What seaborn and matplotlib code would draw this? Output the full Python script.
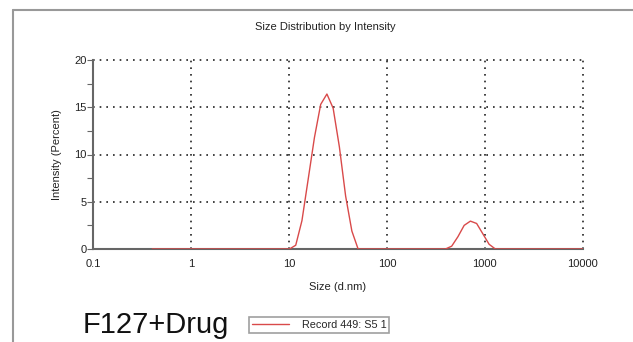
import numpy as np
import pandas as pd
import matplotlib
matplotlib.use("Agg")
import matplotlib.pyplot as plt
from matplotlib.lines import Line2D
from matplotlib.ticker import FixedLocator, LogLocator, NullFormatter
import seaborn as sns

# Size bins (d.nm) and intensity (%)
size_nm = [0.4, 0.4632, 0.5365, 0.6213, 0.7195, 0.8332, 0.9649, 1.117, 1.294, 1.499,
           1.736, 2.010, 2.328, 2.696, 3.122, 3.615, 4.187, 4.849, 5.615, 6.503,
           7.531, 8.721, 10.10, 11.70, 13.54, 15.69, 18.17, 21.04, 24.36, 28.21,
           32.67, 37.84, 43.82, 50.75, 58.77, 68.06, 78.82, 91.28, 105.7, 122.4,
           141.8, 164.2, 190.1, 220.2, 255.0, 295.3, 342.0, 396.1, 458.7, 531.2,
           615.1, 712.4, 825.0, 955.4, 1106, 1281, 1484, 1718, 1990, 2305,
           2669, 3091, 3580, 4145, 4801, 5560, 6439, 7456, 8635, 10000]
intensity = [0, 0, 0, 0, 0, 0, 0, 0, 0, 0,
             0, 0, 0, 0, 0, 0, 0, 0, 0, 0,
             0, 0, 0, 0.4, 3.0, 7.4, 11.8, 15.3, 16.4, 14.9,
             10.8, 5.6, 1.9, 0, 0, 0, 0, 0, 0, 0,
             0, 0, 0, 0, 0, 0, 0, 0, 0.3, 1.3,
             2.5, 2.95, 2.7, 1.6, 0.5, 0, 0, 0, 0, 0,
             0, 0, 0, 0, 0, 0, 0, 0, 0, 0]

x_ticks = [0.1, 1, 10, 100, 1000, 10000]
x_ticklabels = ["0.1", "1", "10", "100", "1000", "10000"]
y_ticks = [0, 5, 10, 15, 20]

title = "Size Distribution by Intensity"
sample_name = "F127+Drug"
record_label = "Record 449: S5 1"

df = pd.DataFrame({"size": size_nm, "intensity": intensity})

sns.set_style("white")
plt.rcParams["font.family"] = ["Liberation Sans", "DejaVu Sans"]

W, H = 633, 342
fig = plt.figure(figsize=(W / 100, H / 100), dpi=100)
ax = fig.add_axes([93.3 / W, 1 - 249 / H, (582.7 - 93.3) / W, (249 - 60) / H])

red = "#d94a4a"
sns.lineplot(data=df, x="size", y="intensity", ax=ax, color=red, linewidth=1,
             estimator=None, sort=False, zorder=5)

ax.set_xscale("log")
ax.set_xlim(0.1, 10000)
ax.set_ylim(0, 20)

ax.xaxis.set_major_locator(FixedLocator(x_ticks))
ax.set_xticklabels(x_ticklabels)
ax.xaxis.set_minor_locator(LogLocator(base=10, subs=np.arange(2, 10), numticks=50))
ax.xaxis.set_minor_formatter(NullFormatter())
ax.set_yticks(y_ticks)
ax.yaxis.set_minor_locator(FixedLocator([2.5, 7.5, 12.5, 17.5]))

ax.grid(True, which="major", color="#222222", linestyle=(0, (1, 3)), linewidth=1.2)
for gl in ax.get_xgridlines() + ax.get_ygridlines():
    gl.set_clip_on(False)
for side in ["top", "right"]:
    ax.spines[side].set_visible(False)
for side in ["left", "bottom"]:
    ax.spines[side].set_color("#666666")
    ax.spines[side].set_linewidth(1.5)

ax.tick_params(axis="x", which="major", length=0, pad=7, labelsize=8, colors="#222222")
ax.tick_params(axis="x", which="minor", length=3, direction="in", color="#666666", width=0.8)
ax.tick_params(axis="y", which="major", length=4, direction="out", pad=1, labelsize=8,
               color="#666666", width=0.8, labelcolor="#222222", left=True)
ax.tick_params(axis="y", which="minor", length=4, direction="out", color="#666666",
               width=0.8, left=True)

ax.set_xlabel("Size (d.nm)", fontsize=8, color="#222222")
ax.set_ylabel("Intensity (Percent)", fontsize=8, color="#222222")
ax.xaxis.set_label_coords(0.5, -0.175)
ax.yaxis.set_label_coords(-0.063, 0.5)

fig.text(325 / W, 1 - 27 / H, title, ha="center", va="center", fontsize=8, color="#222222")
fig.text(83 / W, 1 - 333 / H, sample_name, ha="left", va="baseline", fontsize=21, color="#111111")

handle = Line2D([], [], color=red, linewidth=1)
fig.legend([handle], [record_label], loc="center left",
           bbox_to_anchor=(249 / W, 1 - 325 / H), fontsize=7.8, frameon=True,
           fancybox=False, edgecolor="#888888", handlelength=3.4, handletextpad=1.2,
           borderpad=0.25, borderaxespad=0)
leg = fig.legends[0]
leg.get_frame().set_linewidth(1.2)

# outer frame lines
fig.add_artist(Line2D([13 / W, 13 / W], [0, 1 - 10 / H], color="#999999", linewidth=1.5))
fig.add_artist(Line2D([13 / W, 1], [1 - 10 / H, 1 - 10 / H], color="#999999", linewidth=1.5))

fig.savefig("out.png", dpi=100)
